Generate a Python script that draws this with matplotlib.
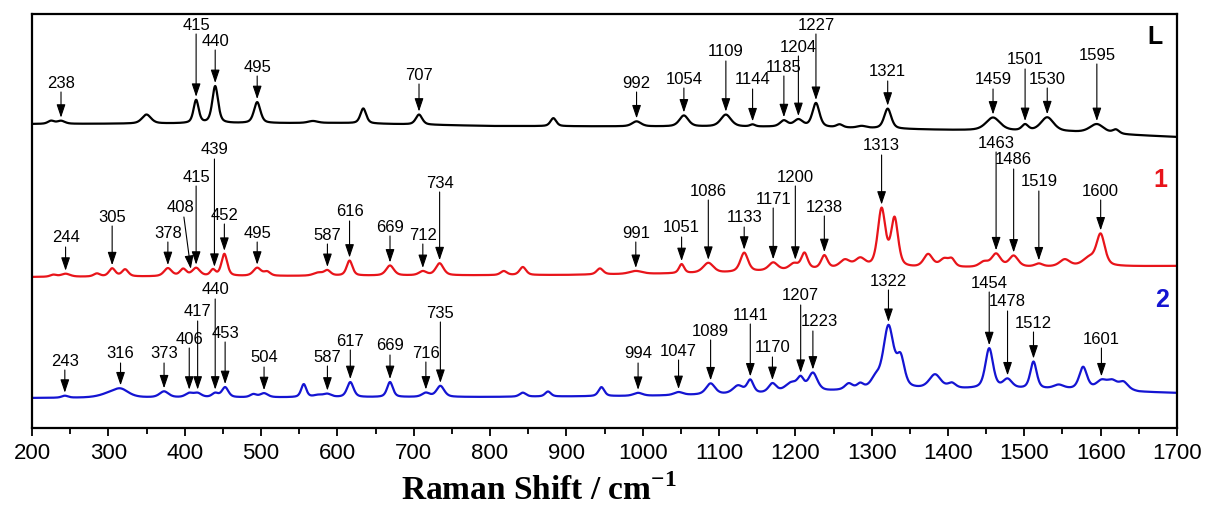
import matplotlib
matplotlib.use("Agg")
import matplotlib.pyplot as plt
import numpy as np

plt.rcParams['font.family'] = ['Liberation Sans', 'DejaVu Sans']
plt.rcParams['mathtext.fontset'] = 'custom'
plt.rcParams['mathtext.rm'] = 'Liberation Serif:bold'
plt.rcParams['mathtext.bf'] = 'Liberation Serif:bold'

# ---- spectrum L (black) ----
L_BASE_X = [200, 600, 800, 1200, 1400, 1560, 1640, 1700]
L_BASE_Y = [304, 305, 302, 301, 298, 296, 293, 291]
L_POS = [225, 238, 350, 415, 440, 495, 568, 634, 707, 883, 992, 1054, 1109, 1144,
         1185, 1204, 1227, 1258, 1287, 1321, 1459, 1501, 1530, 1595, 1620]
L_HGT = [3, 3, 9, 23, 37, 21, 2, 15, 10, 8, 5, 11, 12, 2,
         6, 7, 24, 3, 2, 20, 13, 6, 14, 9, 4]
L_FWHM = [10, 12, 14, 8, 9, 10, 15, 9, 10, 9, 14, 14, 16, 8,
          12, 14, 11, 10, 14, 11, 22, 10, 20, 22, 10]
L_LABELS = [238, 415, 440, 495, 707, 992, 1054, 1109, 1144, 1185, 1204, 1227,
            1321, 1459, 1501, 1530, 1595]

# ---- spectrum 1 (red) ----
R_BASE_X = [200, 900, 1100, 1250, 1700]
R_BASE_Y = [151, 153, 155, 159, 162]
R_POS = [228, 244, 285, 305, 322, 378, 398, 415, 437, 452, 495, 508, 575, 587, 616,
         669, 712, 734, 818, 843, 944, 991, 1051, 1086, 1133, 1171, 1198, 1212, 1238,
         1265, 1285, 1313, 1330, 1374, 1395, 1405, 1447, 1463, 1486, 1519, 1553, 1585,
         1600]
R_HGT = [2, 3, 3, 8, 7, 8, 7, 8, 6, 22, 8, 4, 3, 5, 15,
         10, 4, 12, 4, 8, 6, 3, 9, 10, 19, 8, 6, 16, 13,
         8, 9, 58, 48, 13, 8, 7, 5, 13, 11, 3, 7, 8,
         31]
R_FWHM = [10, 14, 10, 10, 10, 12, 10, 12, 8, 9, 12, 10, 15, 10, 9,
          12, 12, 12, 10, 10, 10, 20, 8, 16, 12, 14, 14, 10, 10,
          16, 16, 12, 11, 14, 14, 10, 14, 14, 14, 12, 16, 20,
          13]
R_LABELS = [244, 305, 378, 408, 415, 439, 452, 495, 587, 616, 669, 712, 734, 991,
            1051, 1086, 1133, 1171, 1200, 1238, 1313, 1463, 1486, 1519, 1600]

# ---- spectrum 2 (blue) ----
B_BASE_X = [200, 800, 1000, 1150, 1300, 1450, 1630, 1650, 1700]
B_BASE_Y = [30, 31, 32, 34, 38, 39, 38, 36, 35]
B_POS = [243, 300, 316, 373, 406, 417, 440, 453, 490, 504, 556, 575, 587, 617, 669,
         716, 735, 843, 876, 946, 994, 1047, 1089, 1125, 1141, 1170, 1195, 1207, 1223,
         1270, 1285, 1305, 1322, 1338, 1383, 1405, 1454, 1478, 1512, 1545, 1577, 1601,
         1615, 1630]
B_HGT = [2, 3, 8, 6, 4, 4, 4, 10, 3, 4, 13, 2, 3, 15, 15,
         4, 11, 4, 5, 9, 3, 3, 11, 8, 13, 9, 9, 11, 18,
         6, 5, 9, 62, 28, 14, 5, 40, 9, 27, 4, 22, 8,
         8, 7]
B_FWHM = [10, 30, 25, 14, 12, 12, 10, 10, 10, 12, 8, 14, 12, 10, 9,
          12, 12, 10, 9, 9, 14, 14, 14, 16, 10, 12, 20, 10, 14,
          12, 10, 14, 16, 12, 18, 12, 12, 14, 10, 16, 12, 16,
          16, 14]
B_LABELS = [243, 316, 373, 406, 417, 440, 453, 504, 587, 617, 669, 716, 735, 994,
            1047, 1089, 1141, 1170, 1207, 1223, 1322, 1454, 1478, 1512, 1601]

# height (in axis units) of each peak label's centre
L_TEXT_Y = [345, 403, 387, 361, 353, 345, 349, 376, 348, 361, 381, 403,
            356, 348, 368, 349, 373]
R_TEXT_Y = [190, 211, 195, 220, 251, 278, 213, 195, 193, 216, 201, 193, 245, 195,
            200, 237, 210, 229, 251, 221, 282, 285, 268, 246, 237]
B_TEXT_Y = [67, 74, 74, 89, 116, 138, 95, 70, 71, 87, 82, 75, 115, 74,
            77, 97, 113, 80, 132, 106, 147, 145, 126, 105, 89]

X_TICKS = np.arange(200, 1701, 100)
FIG_W, FIG_H = 1209, 505
AX_L, AX_B, AX_W, AX_H = 32, 77, 1145, 414


def pvoigt(x, c, h, w, eta=0.5):
    lor = 1.0 / (1.0 + ((x - c) / (w / 2.0)) ** 2)
    gau = np.exp(-4.0 * np.log(2) * (x - c) ** 2 / w ** 2)
    return h * (eta * lor + (1 - eta) * gau)


def spectrum(x, bx, by, pos, hgt, fwhm):
    y = np.interp(x, bx, by)
    for c, h, w in zip(pos, hgt, fwhm):
        y = y + pvoigt(x, c, h, w)
    return y


def label_peaks(ax, x, y, labels, text_y, text_dx=None, slant=None):
    text_dx = text_dx or {}
    slant = slant or {}
    for lab, ty in zip(labels, text_y):
        tip = np.interp(lab, x, y) + 3
        tx = lab + text_dx.get(lab, 0)
        ax.text(tx, ty, str(lab), ha='center', va='center', fontsize=12)
        sx = lab + slant.get(lab, 0)
        ax.annotate('', xy=(lab, tip), xytext=(sx, ty - 9),
                    arrowprops=dict(arrowstyle='-|>,head_length=0.8,head_width=0.27',
                                    color='black', lw=0.8, shrinkA=0, shrinkB=0))


if __name__ == "__main__":
    x = np.linspace(200, 1700, 3001)
    y_l = spectrum(x, L_BASE_X, L_BASE_Y, L_POS, L_HGT, L_FWHM)
    y_r = spectrum(x, R_BASE_X, R_BASE_Y, R_POS, R_HGT, R_FWHM)
    y_b = spectrum(x, B_BASE_X, B_BASE_Y, B_POS, B_HGT, B_FWHM)

    fig = plt.figure(figsize=(FIG_W / 100, FIG_H / 100), dpi=100)
    ax = fig.add_axes([AX_L / FIG_W, AX_B / FIG_H, AX_W / FIG_W, AX_H / FIG_H])

    ax.plot(x, y_l, color='black', lw=1.6)
    ax.plot(x, y_r, color='#e8141a', lw=1.6)
    ax.plot(x, y_b, color='#1414d2', lw=1.6)

    label_peaks(ax, x, y_l, L_LABELS, L_TEXT_Y)
    label_peaks(ax, x, y_r, R_LABELS, R_TEXT_Y, text_dx={408: -14}, slant={408: -9})
    label_peaks(ax, x, y_b, B_LABELS, B_TEXT_Y, text_dx={1223: 8})

    ax.text(1671, 391, 'L', color='black', fontsize=18, fontweight='bold',
            ha='center', va='center')
    ax.text(1678, 248, '1', color='#e8141a', fontsize=18, fontweight='bold',
            ha='center', va='center')
    ax.text(1680, 128, '2', color='#1414d2', fontsize=18, fontweight='bold',
            ha='center', va='center')

    ax.set_xlim(200, 1700)
    ax.set_ylim(0, 414)
    ax.set_xticks(X_TICKS)
    ax.set_xticks(np.arange(250, 1700, 100), minor=True)
    ax.set_yticks([])
    ax.tick_params(axis='x', which='major', direction='out', length=6, width=1.3,
                   labelsize=16, pad=5)
    ax.tick_params(axis='x', which='minor', direction='out', length=4, width=1.3)
    for s in ax.spines.values():
        s.set_linewidth(1.6)

    ax.set_xlabel(r'Raman Shift / cm$^{\mathbf{-1}}$', fontsize=24,
                  fontfamily='Liberation Serif', fontweight='bold')
    ax.xaxis.set_label_coords((539 - AX_L) / AX_W, -0.112)

    fig.savefig('out.png', dpi=100)
